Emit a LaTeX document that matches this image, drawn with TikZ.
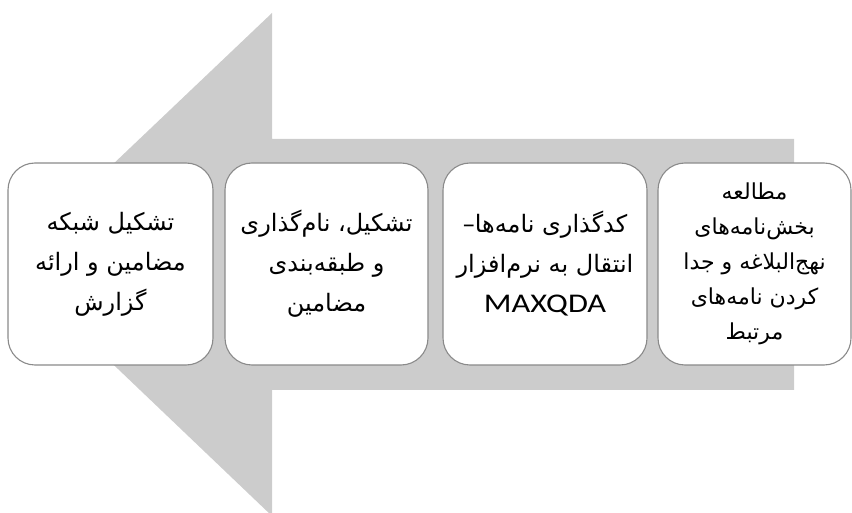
\documentclass[tikz,border=0pt]{standalone}
\usepackage{fontspec}
\TeXXeTstate=1
\newfontfamily\farsifont[Script=Arabic]{DejaVu Sans}
\newfontfamily\latinfont[FakeStretch=1.2]{Carlito}
\newcommand{\fa}[1]{{\farsifont\beginR #1\endR}}

\definecolor{arrowgray}{HTML}{CCCCCC}
\definecolor{boxline}{HTML}{8A8A8A}

\begin{document}
\begin{tikzpicture}[ x=1pt, y=1pt,
    stagebox/.style={draw=boxline, line width=1.1pt, fill=white, rounded corners=27pt,
        minimum height=202pt, align=center, font=\fontsize{24}{40}\selectfont},
    smallstage/.style={stagebox, font=\fontsize{22}{35}\selectfont} ]

\useasboundingbox (0,0) rectangle (852,512);
\clip (0,0) rectangle (852,512);

% Big arrow

    \fill[arrowgray] (794,373) -- (272,373) -- (272,499) -- (8,248)
        -- (272,-4) -- (272,122) -- (794,122) -- cycle;

% Stages

    \node[stagebox, minimum width=205pt] (report) at (110.5,248)
        { \fa{تشکیل شبکه}\\ \fa{مضامین و ارائه}\\ \fa{گزارش} };
    \node[stagebox, minimum width=203pt] (themes) at (326.5,248)
        { \fa{تشکیل، نام‌گذاری}\\ \fa{و طبقه‌بندی}\\ \fa{مضامین} };
    \node[stagebox, minimum width=204pt] (coding) at (545,248)
        { \fa{کدگذاری نامه‌ها–}\\ \fa{انتقال به نرم‌افزار}\\ {\latinfont\fontsize{27}{40}\selectfont MAXQDA} };
    \node[smallstage, minimum width=193pt] (reading) at (754.5,248)
        { \fa{مطالعه}\\ \fa{بخش‌نامه‌های}\\ \fa{نهج‌البلاغه و جدا}\\ \fa{کردن نامه‌های}\\ \fa{مرتبط} };

\end{tikzpicture}
\end{document}
